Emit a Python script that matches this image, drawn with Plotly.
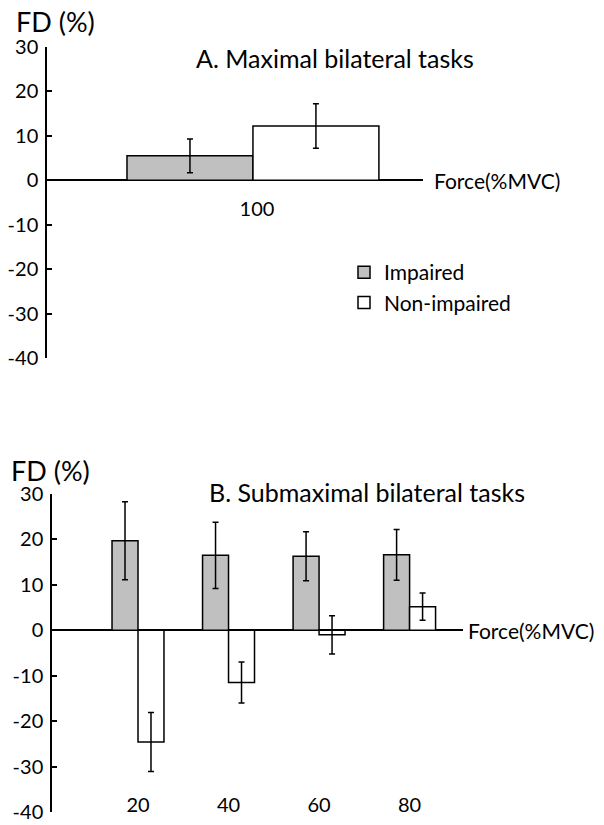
import plotly.graph_objects as go

# Panel A data
a_categories = ["100"]
a_impaired = [5.5]
a_impaired_err = [3.8]
a_nonimpaired = [12.2]
a_nonimpaired_err = [5.0]

# Panel B data
b_categories = ["20", "40", "60", "80"]
b_impaired = [19.7, 16.5, 16.3, 16.6]
b_impaired_err = [8.6, 7.3, 5.4, 5.6]
b_nonimpaired = [-24.6, -11.5, -1.0, 5.2]
b_nonimpaired_err = [6.5, 4.5, 4.2, 3.0]

y_ticks = [-40, -30, -20, -10, 0, 10, 20, 30]
y_ticktext = [str(v) for v in y_ticks]

W, H = 604, 825
FONT = "Lato, 'Open Sans', sans-serif"
GRAY = "#c0c0c0"

def px_x(p):
    return p / W

def px_y(p):
    return 1 - p / H

domA_x = [px_x(47), px_x(423)]
domA_y = [px_y(358), px_y(47)]
domB_x = [px_x(52), px_x(463)]
domB_y = [px_y(812), px_y(494)]

fig = go.Figure()

def add_bars(cats, imp, imp_err, non, non_err, xa, ya, legend, w):
    fig.add_trace(go.Bar(
        x=cats, y=imp, name="Impaired", xaxis=xa, yaxis=ya,
        marker=dict(color=GRAY, line=dict(color="black", width=1.5)),
        error_y=dict(type="data", array=imp_err, color="black", thickness=1.5, width=3),
        showlegend=legend, legendgroup="imp", width=w, offset=-w,
    ))
    fig.add_trace(go.Bar(
        x=cats, y=non, name="Non-impaired", xaxis=xa, yaxis=ya,
        marker=dict(color="white", line=dict(color="black", width=1.5)),
        error_y=dict(type="data", array=non_err, color="black", thickness=1.5, width=3),
        showlegend=legend, legendgroup="non", width=w, offset=0.0,
    ))

add_bars(a_categories, a_impaired, a_impaired_err, a_nonimpaired, a_nonimpaired_err, "x", "y", True, 0.4)
add_bars(b_categories, b_impaired, b_impaired_err, b_nonimpaired, b_nonimpaired_err, "x2", "y2", False, 0.287)

yrange = [-40, 30]
zero_frac = (0 - yrange[0]) / (yrange[1] - yrange[0])
zeroA = domA_y[0] + zero_frac * (domA_y[1] - domA_y[0])

TICKSIZE = 20

yaxis_common = dict(
    range=yrange, tickvals=y_ticks, ticktext=y_ticktext,
    showline=True, linecolor="black", linewidth=1.5,
    ticks="inside", ticklen=5, tickwidth=1.5, tickcolor="black",
    showgrid=False, zeroline=True, zerolinecolor="black", zerolinewidth=1.5,
    tickfont=dict(size=TICKSIZE, color="black", family=FONT), fixedrange=True,
    automargin=False, ticklabelstandoff=3,
)

fig.update_layout(
    width=W, height=H, margin=dict(l=0, r=0, t=0, b=0, pad=0),
    paper_bgcolor="white", plot_bgcolor="white",
    font=dict(family=FONT, color="black", size=20),
    barmode="overlay",
    xaxis=dict(domain=domA_x, type="category", range=[-0.654, 0.540],
               anchor="free", position=zeroA, showline=False, ticks="",
               showgrid=False, zeroline=False, ticklabelstandoff=15, automargin=False,
               fixedrange=True, ticklabelshift=4,
               tickfont=dict(size=TICKSIZE, color="black", family=FONT)),
    yaxis=dict(domain=domA_y, anchor="x", **yaxis_common),
    xaxis2=dict(domain=domB_x, type="category", range=[-0.950, 3.59],
                anchor="free", position=domB_y[0] + 0.026, showline=False, ticks="",
                showgrid=False, zeroline=False, automargin=False, fixedrange=True,
                tickfont=dict(size=TICKSIZE, color="black", family=FONT)),
    yaxis2=dict(domain=domB_y, anchor="x2", **yaxis_common),
    legend=dict(x=px_x(344), y=px_y(252), xanchor="left", yanchor="top",
                font=dict(size=21, color="black", family=FONT),
                bgcolor="rgba(0,0,0,0)", tracegroupgap=0, itemwidth=30),
    showlegend=True,
)

annotations = [
    dict(text="FD (%)", xref="paper", x=px_x(14), xanchor="left",
         yref="y domain", y=1, yanchor="middle", yshift=26, showarrow=False,
         font=dict(size=27)),
    dict(text="FD (%)", xref="paper", x=px_x(9), xanchor="left",
         yref="y2 domain", y=1, yanchor="middle", yshift=24, showarrow=False,
         font=dict(size=27)),
    dict(text="A. Maximal bilateral tasks", xref="paper", x=px_x(335), xanchor="center",
         yref="y domain", y=1, yanchor="middle", yshift=-11, showarrow=False,
         font=dict(size=25)),
    dict(text="B. Submaximal bilateral tasks", xref="paper", x=px_x(367), xanchor="center",
         yref="y2 domain", y=1, yanchor="middle", yshift=2, showarrow=False,
         font=dict(size=25)),
    dict(text="Force(%MVC)", xref="x domain", x=1, xanchor="left", xshift=9,
         yref="y", y=0, yanchor="middle", showarrow=False, font=dict(size=21)),
    dict(text="Force(%MVC)", xref="x2 domain", x=1, xanchor="left", xshift=3,
         yref="y2", y=0, yanchor="middle", showarrow=False, font=dict(size=21)),
]
fig.update_layout(annotations=annotations)

fig.write_html("out.html", config={"displayModeBar": False},
               post_script="document.body.style.margin='0px';")
